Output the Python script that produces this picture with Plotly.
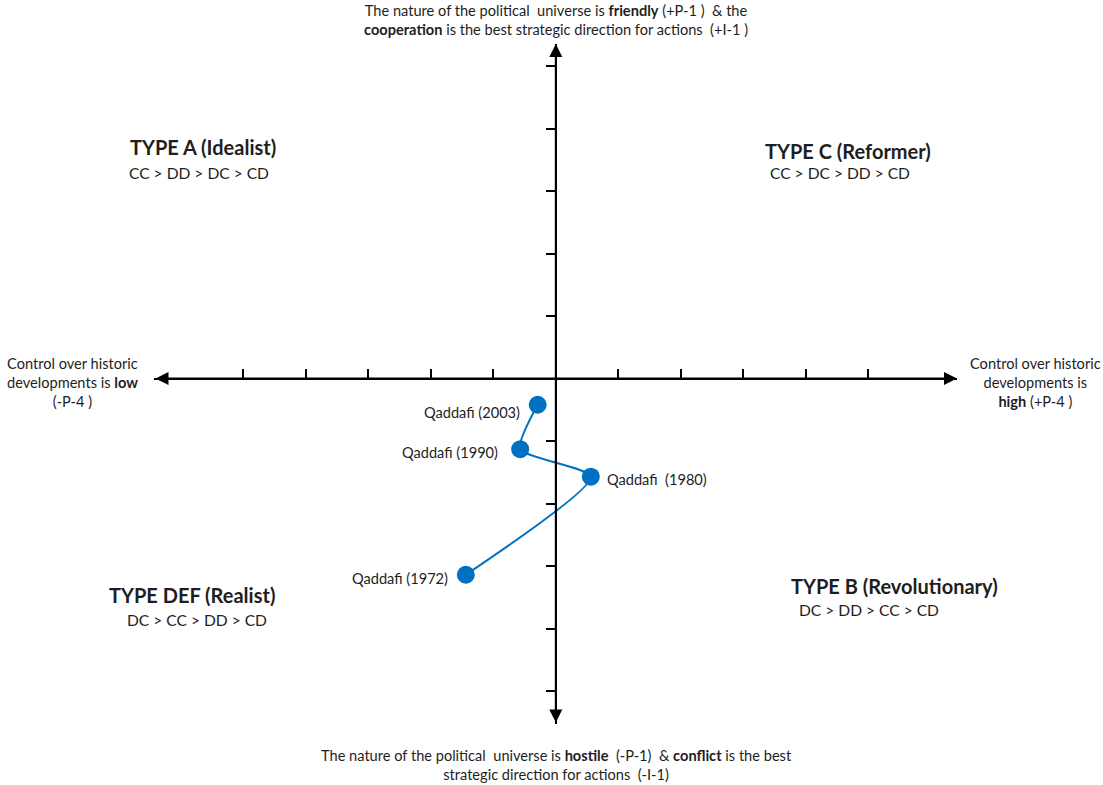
import plotly.graph_objects as go

# ---------------- data ----------------
years = [1972, 1980, 1990, 2003]
p4_control = [-1.44, 0.56, -0.57, -0.29]      # horizontal: control over historic developments
p1_nature = [-3.14, -1.57, -1.13, -0.42]      # vertical: nature of political universe
point_labels = ["Qaddafi (1972)", "Qaddafi  (1980)", "Qaddafi (1990)", "Qaddafi (2003)"]
tick_values = [-5, -4, -3, -2, -1, 1, 2, 3, 4, 5]

quadrant_titles = ["TYPE A (Idealist)", "TYPE C (Reformer)", "TYPE DEF (Realist)", "TYPE B (Revolutionary)"]
quadrant_rankings = ["CC > DD > DC > CD", "CC > DC > DD > CD", "DC > CC > DD > CD", "DC > DD > CC > CD"]

top_text = ("The nature of the political  universe is <b>friendly</b> (+P-1 )  &amp; the<br>"
            "<b>cooperation</b> is the best strategic direction for actions  (+I-1 )")
bottom_text = ("The nature of the political  universe is <b>hostile</b>  (-P-1)  &amp; <b>conflict</b> is the best<br>"
               "strategic direction for actions  (-I-1)")
left_text = "Control over historic<br>developments is <b>low</b><br>(-P-4 )"
right_text = "Control over historic<br>developments is<br><b>high</b> (+P-4 )"

# ---------------- layout / style ----------------
W, H = 1103, 785
FONT = "Lato"
TXT = "#1e1e1e"
BLUE = "#0070C0"

def fx(px):
    return px / W

def fy(py):
    return 1 - py / H

x_range = [-6.43, 6.42]
y_range = [-5.528, 5.352]

# label offsets in pixels (xanchor, xshift, yshift)
label_style = {
    1972: ("right", -16, -4),
    1980: ("left", 14, -3),
    1990: ("right", -20, -3),
    2003: ("right", -16, -8),
}
title_pos = [(203, 147), (848, 151), (192, 595), (895, 586)]
rank_pos = [(199, 173), (840, 173), (197, 620), (869, 610)]

fig = go.Figure()
fig.add_trace(go.Scatter(
    x=p4_control, y=p1_nature, mode="lines+markers",
    line=dict(color=BLUE, width=2, shape="spline", smoothing=0.6),
    marker=dict(color=BLUE, size=18),
    hoverinfo="skip", showlegend=False, cliponaxis=False,
))

annotations = []
for yr, xv, yv, lab in zip(years, p4_control, p1_nature, point_labels):
    anc, xs, ys = label_style[yr]
    annotations.append(dict(x=xv, y=yv, xref="x", yref="y", text=lab, showarrow=False,
                            xanchor=anc, yanchor="middle", xshift=xs, yshift=ys,
                            font=dict(family=FONT, size=14.6, color=TXT)))

for t, r, tp, rp in zip(quadrant_titles, quadrant_rankings, title_pos, rank_pos):
    annotations.append(dict(x=fx(tp[0]), y=fy(tp[1]), xref="paper", yref="paper", text="<b>" + t + "</b>",
                            showarrow=False, xanchor="center", yanchor="middle",
                            font=dict(family=FONT, size=20, color=TXT)))
    annotations.append(dict(x=fx(rp[0]), y=fy(rp[1]), xref="paper", yref="paper", text=r,
                            showarrow=False, xanchor="center", yanchor="middle",
                            font=dict(family=FONT, size=15.6, color=TXT)))

for txt, cx, cy in [(top_text, 556, 20), (bottom_text, 556, 765), (left_text, 72, 382), (right_text, 1035, 382)]:
    annotations.append(dict(x=fx(cx), y=fy(cy), xref="paper", yref="paper", text=txt, showarrow=False,
                            xanchor="center", yanchor="middle", align="center",
                            font=dict(family=FONT, size=14.6, color=TXT)))

# axis arrows (double headed) along the axes
annotations.append(dict(x=x_range[1], y=0, ax=x_range[0], ay=0, xref="x", yref="y", axref="x", ayref="y",
                        text="", showarrow=True, arrowhead=2, arrowside="end+start", arrowsize=1.3,
                        arrowwidth=2, arrowcolor="black", standoff=0, startstandoff=0))
annotations.append(dict(x=0, y=y_range[1], ax=0, ay=y_range[0], xref="x", yref="y", axref="x", ayref="y",
                        text="", showarrow=True, arrowhead=2, arrowside="end+start", arrowsize=1.3,
                        arrowwidth=2, arrowcolor="black", standoff=0, startstandoff=0))

fig.update_layout(
    width=W, height=H, margin=dict(l=0, r=0, t=0, b=0),
    paper_bgcolor="white", plot_bgcolor="white",
    annotations=annotations,
    xaxis=dict(domain=[fx(154), fx(957)], range=x_range, anchor="free", position=fy(378.5),
               showline=True, linecolor="black", linewidth=2, ticks="inside", ticklen=9,
               tickwidth=1.6, tickcolor="black", tickvals=tick_values, showticklabels=False,
               showgrid=False, zeroline=False, fixedrange=True),
    yaxis=dict(domain=[fy(724), fy(44)], range=y_range, anchor="free", position=fx(556),
               showline=True, linecolor="black", linewidth=2, ticks="outside", ticklen=9,
               tickwidth=1.6, tickcolor="black", tickvals=tick_values, showticklabels=False,
               showgrid=False, zeroline=False, fixedrange=True),
)

fig.write_html("out.html", config={"displayModeBar": False},
               post_script="document.body.style.margin='0';document.body.style.overflow='hidden';")
